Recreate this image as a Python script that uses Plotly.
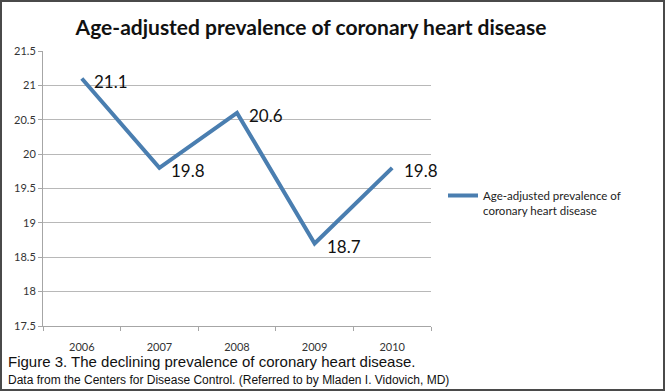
import plotly.graph_objects as go

years = ["2006", "2007", "2008", "2009", "2010"]
prevalence = [21.1, 19.8, 20.6, 18.7, 19.8]
y_ticks = [17.5, 18, 18.5, 19, 19.5, 20, 20.5, 21, 21.5]
y_tick_labels = ["17.5", "18", "18.5", "19", "19.5", "20", "20.5", "21", "21.5"]
series_name = "Age-adjusted prevalence of<br>coronary heart disease"
title_text = "Age-adjusted prevalence of coronary heart disease"
caption1 = "Figure 3. The declining prevalence of coronary heart disease."
caption2 = "Data from the Centers for Disease Control. (Referred to by Mladen I. Vidovich, MD)"

W, H = 666, 392
L, R, T, B = 43, 431, 51, 326
pw, ph = R - L, B - T

def px(x):
    return (x - L) / pw

def py(y):
    return (B - y) / ph

fig = go.Figure()
fig.add_trace(go.Scatter(
    x=years, y=prevalence, mode="lines",
    line=dict(color="#4a7eb0", width=4),
    name=series_name, showlegend=True, cliponaxis=False,
))

annotations = [
    dict(x=i, y=v, xref="x", yref="y", text=f"{v:.1f}", showarrow=False,
         xanchor="left", yanchor="middle", xshift=10, yshift=-3,
         font=dict(family="Lato", size=17, color="#111111"))
    for i, v in enumerate(prevalence)
]
annotations += [
    dict(text=caption1, xref="paper", yref="paper", x=px(6), y=py(361),
         xanchor="left", yanchor="middle", showarrow=False,
         font=dict(family="Liberation Sans", size=15, color="#111111")),
    dict(text=caption2, xref="paper", yref="paper", x=px(6), y=py(380),
         xanchor="left", yanchor="middle", showarrow=False,
         font=dict(family="Liberation Sans", size=12, color="#111111")),
]

fig.update_layout(
    width=W, height=H,
    margin=dict(l=L, r=W - R, t=T, b=H - B),
    paper_bgcolor="white", plot_bgcolor="white",
    title=dict(text=f"<b>{title_text}</b>", x=311 / W, xanchor="center",
               y=1 - 28 / H, yanchor="middle",
               font=dict(family="Lato", size=21, color="#111111")),
    xaxis=dict(type="category", range=[-0.5, 4.5], showgrid=False,
               showline=True, linecolor="#a6a6a6", linewidth=1,
               ticks="outside", tickson="boundaries", ticklen=4, tickcolor="#a6a6a6",
               ticklabelstandoff=11,
               tickfont=dict(family="Lato", size=11, color="#333333"), fixedrange=True),
    yaxis=dict(range=[17.5, 21.5], tickvals=y_ticks, ticktext=y_tick_labels,
               showgrid=True, gridcolor="#b8b8b8", gridwidth=1,
               showline=True, linecolor="#a6a6a6", linewidth=1,
               ticks="outside", ticklen=4, tickcolor="#a6a6a6", zeroline=False,
               tickfont=dict(family="Lato", size=11, color="#333333"), fixedrange=True),
    legend=dict(x=px(443), y=py(203), xanchor="left", yanchor="middle", valign="top",
                bgcolor="rgba(0,0,0,0)", font=dict(family="Lato", size=11.5, color="#222222"),
                itemwidth=30, tracegroupgap=0),
    annotations=annotations,
    shapes=[
        dict(type="rect", xref="paper", yref="paper", x0=px(1), x1=px(664), y0=py(1), y1=py(390),
             line=dict(color="#4a4a4a", width=2), layer="above"),
    ],
)

fig.write_html("out.html", config={"displayModeBar": False},
               post_script="document.body.style.margin='0';document.body.style.padding='0';")
